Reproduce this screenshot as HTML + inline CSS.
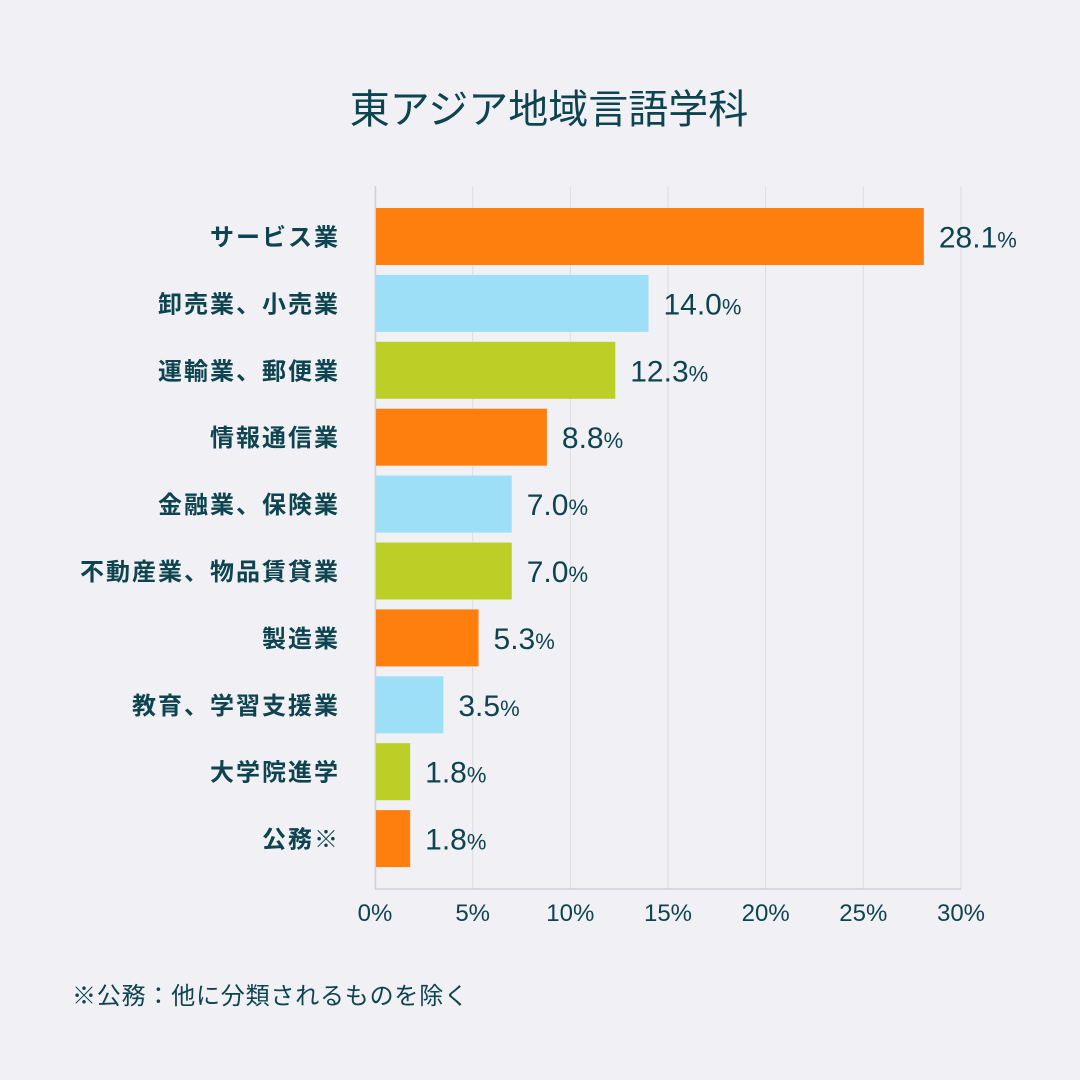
<!DOCTYPE html>
<html><head><meta charset="utf-8"><style>
body{margin:0;background:#f0f0f5;}
svg{display:block;font-family:"Liberation Sans","Noto Sans CJK JP",sans-serif;}
</style></head><body>
<svg id="c" width="1080" height="1080" viewBox="0 0 1080 1080">
<rect width="1080" height="1080" fill="#f0f0f5"/>
<text x="549" y="123" text-anchor="middle" font-size="40" fill="#0e4450">東アジア地域言語学科</text>
<g id="grid"></g><g id="bars"></g><g id="labels"></g>
<text x="72" y="1004" font-size="24" letter-spacing="0.8" fill="#0e4450">※公務：他に分類されるものを除く</text>
</svg>
<script>
const categories=["サービス業","卸売業、小売業","運輸業、郵便業","情報通信業","金融業、保険業","不動産業、物品賃貸業","製造業","教育、学習支援業","大学院進学","公務※"];
const values=[28.1,14.0,12.3,8.8,7.0,7.0,5.3,3.5,1.8,1.8];
const ticks=[0,5,10,15,20,25,30];
const colors=["#ff7f0e","#9ddff7","#bccf26"];
const NS="http://www.w3.org/2000/svg";
const X0=375,X1=961,TOPY=208,PITCH=66.9,BH=57;
const xs=v=>X0+(X1-X0)*v/30;
const ys=i=>TOPY+i*PITCH;
function mk(tag,attrs,parent){const e=document.createElementNS(NS,tag);for(const k in attrs)e.setAttribute(k,attrs[k]);parent.appendChild(e);return e;}
const g=document.getElementById('grid'),b=document.getElementById('bars'),l=document.getElementById('labels');
ticks.forEach(t=>{
 const ln=mk('line',{x1:xs(t),x2:xs(t),y1:186,y2:889,stroke:'#dddde3','stroke-width':1},g);
 
 
 const tx=mk('text',{x:xs(t),y:921,'text-anchor':'middle','font-size':24,fill:'#0e4450'},g);
 tx.textContent=t+'%';
 
 
});
const ax=mk('line',{x1:375,x2:961,y1:889,y2:889,stroke:'#cfcfd6','stroke-width':1.5},g);


const ay=mk('line',{x1:375.5,x2:375.5,y1:186,y2:889,stroke:'#cfcfd6','stroke-width':1.5},g);


categories.forEach((c,i)=>{
 const r=mk('rect',{x:X0+1,y:ys(i),width:xs(values[i])-X0-1,height:BH,fill:colors[i%3]},b);
 
 
 const ct=mk('text',{x:340,y:ys(i)+BH/2+9,'text-anchor':'end','font-size':24,'letter-spacing':2,'font-weight':'bold',fill:'#0e4450'},l);
 ct.textContent=c;
 
 
 const vt=mk('text',{x:xs(values[i])+15,y:ys(i)+BH/2+11,'font-size':30,fill:'#0e4450'},l);
 
 
 vt.textContent=values[i].toFixed(1);
 const sp=mk('tspan',{'font-size':22},vt);sp.textContent='%';
});
</script>
</body></html>
